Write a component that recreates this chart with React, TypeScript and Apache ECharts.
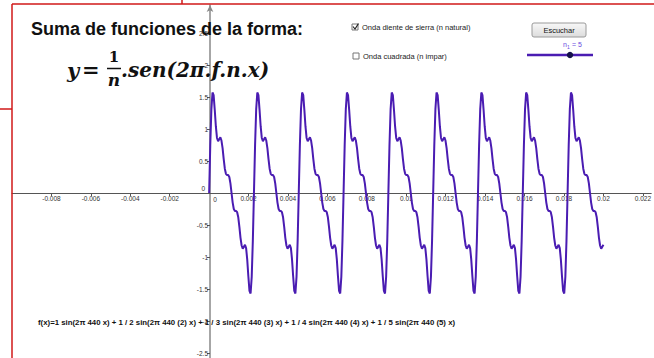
import React, { useEffect, useRef } from "react";
import * as echarts from "echarts";

// ---- data ----
// one period of the plotted sum (values every 1/40 of a period)
const periodShape = [
  0, 0.75, 1.31, 1.57, 1.53, 1.3, 1.04, 0.86, 0.81, 0.84,
  0.87, 0.82, 0.7, 0.53, 0.38, 0.3, 0.28, 0.28, 0.25, 0.15,
  0, -0.15, -0.25, -0.28, -0.28, -0.3, -0.38, -0.53, -0.7, -0.82,
  -0.87, -0.84, -0.81, -0.86, -1.04, -1.3, -1.53, -1.57, -1.31, -0.75,
];
// start of each period along x (seconds), curve drawn from 0 to 0.02
const periodStarts = [0, 0.0022727, 0.0045455, 0.0068182, 0.0090909, 0.0113636, 0.0136364, 0.0159091, 0.0181818];
const periodLength = 0.0022727;
const curveEnd = 0.02;

const xTickValues = [-0.008, -0.006, -0.004, -0.002, 0.002, 0.004, 0.006, 0.008, 0.01, 0.012, 0.014, 0.016, 0.018, 0.02, 0.022];
const xTickLabels = ["-0.008", "-0.006", "-0.004", "-0.002", "0.002", "0.004", "0.006", "0.008", "0.01", "0.012", "0.014", "0.016", "0.018", "0.02", "0.022"];
const yTickValues = [-2.5, -2, -1.5, -1, -0.5, 0.5, 1, 1.5, 2, 2.5];
const yTickLabels = ["-2.5", "-2", "-1.5", "-1", "-0.5", "0.5", "1", "1.5", "2", "2.5"];

const titleText = "Suma de funciones de la forma:";
const check1Text = "Onda diente de sierra (n natural)";
const check2Text = "Onda cuadrada (n impar)";
const buttonText = "Escuchar";
const sliderValue = 5;
const formulaText =
  "f(x)=1 sin(2\u03c0 440 x) + 1 / 2 sin(2\u03c0 440 (2) x) + 1 / 3 sin(2\u03c0 440 (3) x) + 1 / 4 sin(2\u03c0 440 (4) x) + 1 / 5 sin(2\u03c0 440 (5) x)";

function buildCurve(): number[][] {
  const pts: number[][] = [];
  const step = periodLength / periodShape.length;
  periodStarts.forEach((s) => {
    periodShape.forEach((v, k) => {
      const x = s + k * step;
      if (x <= curveEnd + 1e-7) pts.push([x, v]);
    });
  });
  return pts;
}

const lab = (vals: number[], labels: string[]) => (v: number) => {
  const i = vals.findIndex((t) => Math.abs(t - v) < 1e-9);
  return i >= 0 ? labels[i] : "";
};

const PURPLE = "#4a1cb2";
const RED = "#d01818";
const SANS = "'Liberation Sans', Arial, sans-serif";
const SERIF = "'DejaVu Serif', serif";

// layout of the plot area (GeoGebra view)
const GRID_LEFT = 12;
const GRID_TOP = 5;
const X_MIN = -0.01;
const X_MAX = 0.022424;
const Y_MIN = -2.578;
const Y_MAX = 2.9375;
const W = 654;
const H = 358;
// pixel where x = 0 / y = 0 fall, to place the axes through the origin
const originX = GRID_LEFT + ((0 - X_MIN) / (X_MAX - X_MIN)) * (W - GRID_LEFT);
const originY = GRID_TOP + ((Y_MAX - 0) / (Y_MAX - Y_MIN)) * (H - GRID_TOP);

export default function App() {
  const ref = useRef<HTMLDivElement>(null);
  useEffect(() => {
    if (!ref.current) return;
    const chart = echarts.init(ref.current, null, { renderer: "svg" });
    const option: any = {
      animation: false,
      backgroundColor: "#ffffff",
      grid: { left: GRID_LEFT, right: 0, top: GRID_TOP, bottom: 0, containLabel: false },
      xAxis: {
        type: "value",
        position: "bottom",
        offset: -(H - originY),
        min: X_MIN,
        max: X_MAX,
        axisLine: { onZero: false, lineStyle: { color: "#555", width: 1 } },
        axisTick: { show: true, customValues: xTickValues, length: 3, lineStyle: { color: "#555" } },
        axisLabel: {
          customValues: xTickValues,
          interval: 0,
          formatter: lab(xTickValues, xTickLabels),
          fontSize: 6.5,
          fontFamily: SANS,
          color: "#333",
          margin: 2,
        },
        splitLine: { show: false },
      },
      yAxis: {
        type: "value",
        position: "left",
        offset: -(originX - GRID_LEFT),
        min: Y_MIN,
        max: Y_MAX,
        axisLine: {
          onZero: false,
          symbol: ["none", "arrow"],
          symbolSize: [5, 7],
          lineStyle: { color: "#888", width: 1.5 },
        },
        axisTick: { show: true, customValues: yTickValues, length: 3, lineStyle: { color: "#555" } },
        axisLabel: {
          customValues: yTickValues,
          interval: 0,
          formatter: lab(yTickValues, yTickLabels),
          fontSize: 6.5,
          fontFamily: SANS,
          color: "#333",
          margin: 2,
        },
        splitLine: { show: false },
      },
      series: [
        {
          type: "line",
          data: buildCurve(),
          showSymbol: false,
          smooth: false,
          lineStyle: { color: PURPLE, width: 2 },
          itemStyle: { color: PURPLE },
          clip: true,
          z: 3,
        },
      ],
      graphic: [
        // red frame lines
        { type: "line", shape: { x1: 12, y1: 4, x2: 12, y2: 358 }, style: { stroke: RED, lineWidth: 1.5 }, z: 100 },
        { type: "line", shape: { x1: 12, y1: 4, x2: 654, y2: 4 }, style: { stroke: RED, lineWidth: 1.5 }, z: 100 },
        { type: "line", shape: { x1: 0, y1: 109, x2: 12, y2: 109 }, style: { stroke: RED, lineWidth: 1.5 }, z: 100 },
        { type: "line", shape: { x1: 182, y1: 0, x2: 182, y2: 4 }, style: { stroke: RED, lineWidth: 1.5 }, z: 100 },
        // origin labels
        { type: "text", x: 215, y: 199, style: { text: "0", font: `6.5px ${SANS}`, fill: "#333", align: "center", verticalAlign: "middle" }, z: 50 },
        { type: "text", x: 205, y: 188, style: { text: "0", font: `6.5px ${SANS}`, fill: "#333", align: "right", verticalAlign: "middle" }, z: 50 },
        // title
        { type: "text", x: 31, y: 29, style: { text: titleText, font: `bold 18px ${SANS}`, fill: "#111", verticalAlign: "middle" }, z: 60 },
        // formula y = 1/n .sen(2π.f.n.x)
        { type: "text", x: 67, y: 70, style: { text: "y", font: `italic bold 21px ${SERIF}`, fill: "#111", verticalAlign: "middle" }, z: 60 },
        { type: "text", x: 82, y: 69, style: { text: "=", font: `bold 21px ${SERIF}`, fill: "#111", verticalAlign: "middle" }, z: 60 },
        { type: "text", x: 114, y: 57, style: { text: "1", font: `bold 15px ${SERIF}`, fill: "#111", align: "center", verticalAlign: "middle" }, z: 60 },
        { type: "line", shape: { x1: 107, y1: 68.5, x2: 121, y2: 68.5 }, style: { stroke: "#111", lineWidth: 1.5 }, z: 60 },
        { type: "text", x: 114, y: 80, style: { text: "n", font: `italic bold 17px ${SERIF}`, fill: "#111", align: "center", verticalAlign: "middle" }, z: 60 },
        { type: "text", x: 121, y: 70, style: { text: ".sen(2\u03c0.f.n.x)", font: `italic bold 20px ${SERIF}`, fill: "#111", verticalAlign: "middle" }, z: 60 },
        // checkbox 1 (checked)
        { type: "rect", shape: { x: 352, y: 24, width: 6, height: 6 }, style: { fill: "#fff", stroke: "#777", lineWidth: 1 }, z: 60 },
        { type: "polyline", shape: { points: [[353, 26.5], [355, 29], [358.5, 23.5]] }, style: { stroke: "#222", lineWidth: 1.2, fill: null }, z: 61 },
        { type: "text", x: 362, y: 27.5, style: { text: check1Text, font: `7.5px ${SANS}`, fill: "#222", verticalAlign: "middle" }, z: 60 },
        // checkbox 2
        { type: "rect", shape: { x: 353, y: 53, width: 6, height: 6 }, style: { fill: "#fff", stroke: "#777", lineWidth: 1 }, z: 60 },
        { type: "text", x: 363, y: 56.5, style: { text: check2Text, font: `7.5px ${SANS}`, fill: "#222", verticalAlign: "middle" }, z: 60 },
        // button
        {
          type: "rect",
          shape: { x: 532, y: 23, width: 54, height: 14, r: 2 },
          style: {
            fill: new echarts.graphic.LinearGradient(0, 0, 0, 1, [
              { offset: 0, color: "#f8f8f8" },
              { offset: 1, color: "#dcdcdc" },
            ]),
            stroke: "#9a9a9a",
            lineWidth: 1,
          },
          z: 60,
        },
        { type: "text", x: 559, y: 30.5, style: { text: buttonText, font: `7.5px ${SANS}`, fill: "#111", align: "center", verticalAlign: "middle" }, z: 61 },
        // slider
        { type: "line", shape: { x1: 527, y1: 55, x2: 593, y2: 55 }, style: { stroke: PURPLE, lineWidth: 2.5 }, z: 60 },
        { type: "circle", shape: { cx: 570, cy: 55, r: 3.2 }, style: { fill: "#15124a" }, z: 61 },
        { type: "text", x: 563, y: 44, style: { text: "n", font: `7px ${SANS}`, fill: "#6a4ae0", verticalAlign: "middle" }, z: 60 },
        { type: "text", x: 567, y: 46.5, style: { text: "1", font: `5px ${SANS}`, fill: "#6a4ae0", verticalAlign: "middle" }, z: 60 },
        { type: "text", x: 570, y: 44, style: { text: ` = ${sliderValue}`, font: `7px ${SANS}`, fill: "#6a4ae0", verticalAlign: "middle" }, z: 60 },
        // bottom formula text
        { type: "text", x: 38, y: 322, style: { text: formulaText, font: `bold 7.8px ${SANS}`, fill: "#111", verticalAlign: "middle" }, z: 60 },
      ],
    };
    chart.setOption(option);
    return () => chart.dispose();
  }, []);
  return (
    <div
      ref={ref}
      style={{ position: "absolute", left: 0, top: 0, width: W, height: H, background: "#fff" }}
    />
  );
}
